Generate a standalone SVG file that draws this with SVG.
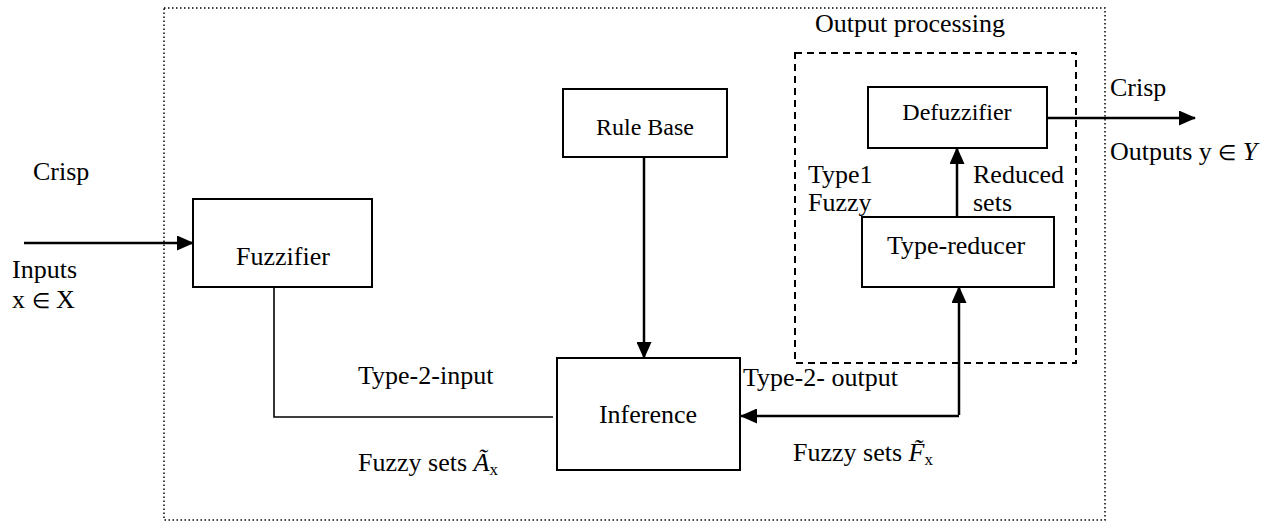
<svg xmlns="http://www.w3.org/2000/svg" width="1287" height="522" viewBox="0 0 1287 522">
<style>
text{font-family:"Liberation Serif","Times New Roman",serif;font-size:26px;fill:#000}
.sm{font-size:24px}
.el{font-size:21px}
.box{fill:#fff;stroke:#000;stroke-width:2}
.c{fill:none;stroke:#000;stroke-width:2.5}
.thin{fill:none;stroke:#000;stroke-width:1.6}
</style>
<defs>
<marker id="ah" markerWidth="17" markerHeight="15" refX="16" refY="7.5" orient="auto" markerUnits="userSpaceOnUse">
<path d="M0,0 L17,7.5 L0,15 Z" fill="#000"/>
</marker>
</defs>
<rect x="164" y="8" width="941" height="512" fill="none" stroke="#000" stroke-width="1.5" stroke-dasharray="1.5,2.5"/>
<g id="output-processing">
<rect x="795" y="53" width="281" height="310" fill="none" stroke="#000" stroke-width="2" stroke-dasharray="7,5"/>
<text x="815" y="32">Output processing</text>
</g>
<g id="connectors">
<line class="c" x1="24" y1="243" x2="193" y2="243" marker-end="url(#ah)"/>
<polyline class="thin" points="274,287 274,417 553,417"/>
<line class="c" x1="644" y1="157" x2="644" y2="358" marker-end="url(#ah)"/>
<polyline class="c" points="959,415 959,287" marker-end="url(#ah)"/>
<polyline class="c" points="959,416 741,416" marker-end="url(#ah)"/>
<line class="c" x1="957" y1="216" x2="957" y2="148" marker-end="url(#ah)"/>
<line class="c" x1="1047" y1="118" x2="1195" y2="118" marker-end="url(#ah)"/>
</g>
<g id="fuzzifier">
<rect class="box" x="193" y="199" width="179" height="88"/>
<text x="283" y="265" text-anchor="middle">Fuzzifier</text>
</g>
<g id="rule-base">
<rect class="box" x="563" y="89" width="164" height="68"/>
<text class="sm" x="645" y="135" text-anchor="middle">Rule Base</text>
</g>
<g id="inference">
<rect class="box" x="557" y="358" width="183" height="112"/>
<text x="648" y="423" text-anchor="middle">Inference</text>
</g>
<g id="type-reducer">
<rect class="box" x="862" y="217" width="192" height="70"/>
<text x="956" y="254" text-anchor="middle">Type-reducer</text>
</g>
<g id="defuzzifier">
<rect class="box" x="868" y="87" width="179" height="61"/>
<text class="sm" x="957" y="120" text-anchor="middle">Defuzzifier</text>
</g>
<g id="labels">
<text x="33" y="180">Crisp</text>
<text x="12" y="278">Inputs</text>
<text x="12" y="308">x <tspan class="el">∈</tspan> X</text>
<text x="358" y="384">Type-2-input</text>
<text x="358" y="471">Fuzzy sets <tspan font-style="italic">Ã</tspan><tspan font-size="17" dy="4">x</tspan></text>
<text x="743" y="386">Type-2- output</text>
<text x="793" y="461">Fuzzy sets <tspan font-style="italic">F̃</tspan><tspan font-size="17" dy="4">x</tspan></text>
<text x="808" y="183">Type1</text>
<text x="808" y="211">Fuzzy</text>
<text x="973" y="183">Reduced</text>
<text x="973" y="211">sets</text>
<text x="1110" y="96">Crisp</text>
<text x="1110" y="160">Outputs y <tspan class="el">∈</tspan> <tspan font-style="italic">Y</tspan></text>
</g>
</svg>
